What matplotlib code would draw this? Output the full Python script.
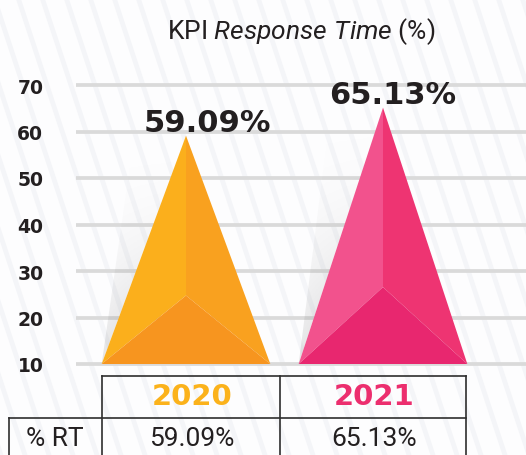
import matplotlib.pyplot as plt
import numpy as np
from matplotlib.patches import Polygon

plt.rcParams['mathtext.fontset'] = 'custom'
plt.rcParams['mathtext.rm'] = 'Roboto'
plt.rcParams['mathtext.it'] = 'Roboto:italic'

years = ['2020', '2021']
rt = [59.09, 65.13]
row_label = '% RT'
yticks = [10, 20, 30, 40, 50, 60, 70]

c_left = ['#FBAF1C', '#F2528D']
c_right = ['#F9A11F', '#EE3472']
c_bottom = ['#F7951F', '#E8276F']
c_year = ['#FBB21B', '#EC2E6E']
dark = '#231F20'

W, H = 526, 456
fig = plt.figure(figsize=(W / 100, H / 100), dpi=100, facecolor='#FDFDFE')

# background with very faint diagonal stripes, pixel coords
bg = fig.add_axes([0, 0, 1, 1], zorder=0)
bg.set_xlim(0, W)
bg.set_ylim(H, 0)
bg.axis('off')
for x0 in np.arange(-200, W + 40, 24):
    bg.add_patch(Polygon([(x0, 0), (x0 + 5, 0), (x0 + 5 + 0.33 * H, H), (x0 + 0.33 * H, H)],
                         closed=True, fc='#F4F5F8', ec='none'))

# chart
ax = fig.add_axes([76 / W, 91 / H, 450 / W, 279 / H], zorder=1)
ax.set_facecolor('none')
for s in ax.spines.values():
    s.set_visible(False)
ax.hlines(yticks, -110 / 197, 1 + 143 / 197, colors='#DADADA', lw=2.7, zorder=1, clip_on=False)
ax.set_yticks(yticks)
ax.set_yticklabels([str(t) for t in yticks], fontweight='bold', fontsize=13.5, color=dark)
ax.tick_params(axis='y', length=0, pad=23.5)
ax.set_xticks([])

hw = 0.428
ny = 120
gy = np.linspace(0, 1, ny)[:, None] ** 2.2
gx = np.linspace(0.35, 1, 60)[None, :]
for i, v in enumerate(rt):
    apex = (i, v)
    left = (i - hw, 10)
    right = (i + hw, 10)
    inner = (i, 10 + 0.3 * (v - 10))
    # soft shadow just left of the left face
    shadow = Polygon([left, (i - 0.27, v - 2), apex], closed=True, fc='none', ec='none')
    ax.add_patch(shadow)
    rgba = np.zeros((ny, 60, 4))
    rgba[..., :3] = 0.5
    rgba[..., 3] = 0.5 * gy * gx
    im = ax.imshow(rgba, extent=(i - 0.45, i, 10, v), origin='upper', aspect='auto', zorder=2)
    im.set_clip_path(shadow)
    ax.add_patch(Polygon([apex, left, inner], closed=True, fc=c_left[i], ec='none', zorder=3))
    ax.add_patch(Polygon([apex, right, inner], closed=True, fc=c_right[i], ec='none', zorder=3))
    ax.add_patch(Polygon([left, right, inner], closed=True, fc=c_bottom[i], ec='none', zorder=3))

label_dx = [0.11, 0.05]
for i, v in enumerate(rt):
    ax.text(i + label_dx[i], v + 1.1, f'{v:.2f}%', ha='center', va='baseline',
            fontsize=22, fontweight='bold', color=dark, zorder=4, clip_on=False)

ax.set_xlim(-110 / 197, 1 + 143 / 197)
ax.set_ylim(10, 70)

# overlay in pixel coords for title and table
ov = fig.add_axes([0, 0, 1, 1], zorder=2)
ov.set_xlim(0, W)
ov.set_ylim(H, 0)
ov.axis('off')
ov.text(301, 39.5, r'KPI $\mathit{Response\ Time}$ (%)', ha='center', va='baseline',
        fontsize=19, fontfamily='Roboto', color=dark)

lc = '#2E2E2E'
lw = 1.2
ov.plot([102, 466], [377, 377], color=lc, lw=lw)
ov.plot([9, 466], [419, 419], color=lc, lw=lw)
for x in [102, 280, 466]:
    ov.plot([x, x], [377, 470], color=lc, lw=lw)
ov.plot([9, 9], [419, 470], color=lc, lw=lw)

col_x = [192, 374]
for i, y in enumerate(years):
    ov.text(col_x[i], 397, y, ha='center', va='center', fontsize=21, fontweight='bold', color=c_year[i])
    ov.text(col_x[i], 439, f'{rt[i]:.2f}%', ha='center', va='center', fontsize=19,
            fontfamily='Roboto', color=dark)
ov.text(55, 439, row_label, ha='center', va='center', fontsize=19, fontfamily='Roboto', color=dark)

fig.savefig('out.png', dpi=100, facecolor=fig.get_facecolor())
